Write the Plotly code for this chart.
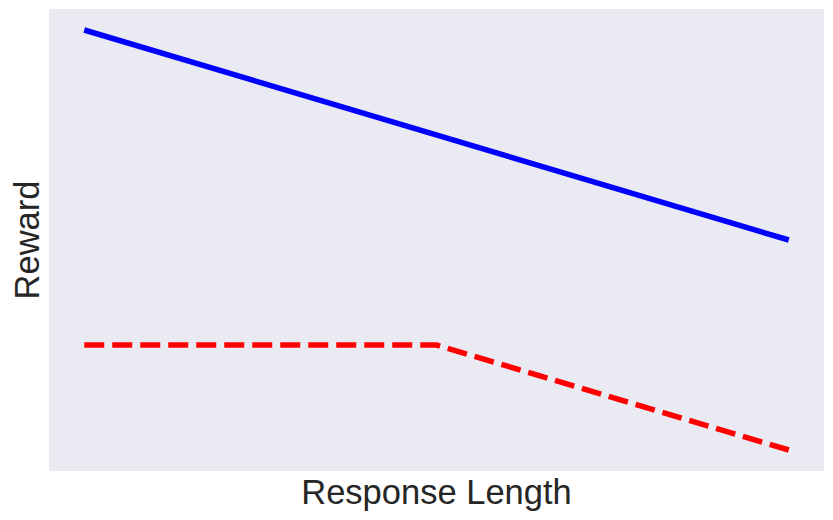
import plotly.graph_objects as go

x_vals = [0, 5, 10]
blue_vals = [1.0, 0.75, 0.5]
red_vals = [0.25, 0.25, 0.0]

fig = go.Figure()
fig.add_trace(go.Scatter(x=x_vals, y=blue_vals, mode="lines",
                         line=dict(color="#0000ff", width=5.5), showlegend=False))
fig.add_trace(go.Scatter(x=x_vals, y=red_vals, mode="lines",
                         line=dict(color="#ff0000", width=5.5, dash="20px,8px"), showlegend=False))

fig.update_layout(
    width=833, height=520,
    margin=dict(l=41, r=17, t=1, b=57, pad=0),
    paper_bgcolor="white", plot_bgcolor="#EAEAF2",
    font=dict(family="Liberation Sans, Arial, sans-serif", color="#262626"),
)
fig.update_xaxes(range=[-0.5, 10.5], showticklabels=False, ticks="", showgrid=False, zeroline=False,
                 automargin=False,
                 title=dict(text="Response Length", font=dict(size=34.5), standoff=8))
fig.update_yaxes(range=[-0.05, 1.05], showticklabels=False, ticks="", showgrid=False, zeroline=False,
                 automargin=False,
                 title=dict(text="Reward", font=dict(size=34.5), standoff=0))
fig.write_html("out.html")
